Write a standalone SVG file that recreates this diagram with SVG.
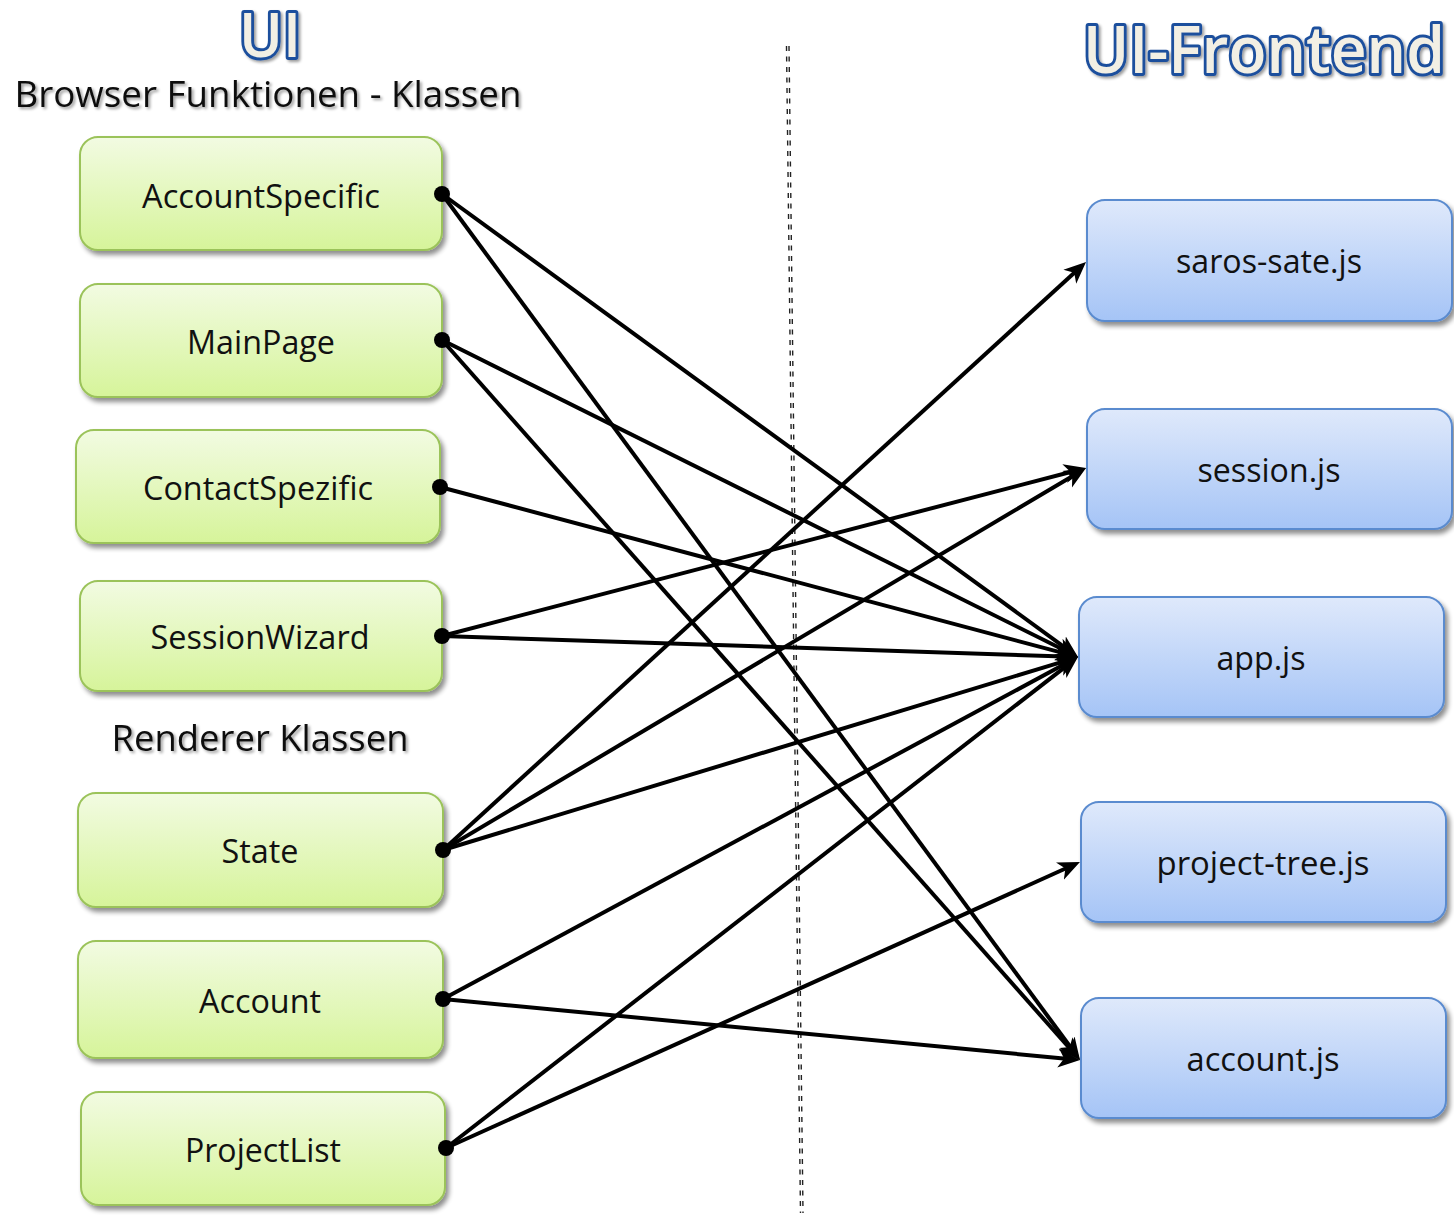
<svg xmlns="http://www.w3.org/2000/svg" width="1454" height="1215" viewBox="0 0 1454 1215">
  <defs>
    <linearGradient id="gGreen" x1="0" y1="0" x2="0" y2="1">
      <stop offset="0" stop-color="#f2fbe2"/>
      <stop offset="1" stop-color="#d6f49a"/>
    </linearGradient>
    <linearGradient id="gBlue" x1="0" y1="0" x2="0" y2="1">
      <stop offset="0" stop-color="#dfe9fb"/>
      <stop offset="1" stop-color="#a5c4f6"/>
    </linearGradient>
    <filter id="boxShadow" x="-10%" y="-10%" width="125%" height="130%">
      <feGaussianBlur in="SourceAlpha" stdDeviation="2.5"/>
      <feOffset dx="3" dy="4" result="o"/>
      <feComponentTransfer><feFuncA type="linear" slope="0.45"/></feComponentTransfer>
      <feMerge><feMergeNode/><feMergeNode in="SourceGraphic"/></feMerge>
    </filter>
    <filter id="textShadow" x="-5%" y="-20%" width="110%" height="150%">
      <feGaussianBlur in="SourceAlpha" stdDeviation="1.5"/>
      <feOffset dx="2" dy="2"/>
      <feComponentTransfer><feFuncA type="linear" slope="0.4"/></feComponentTransfer>
      <feMerge><feMergeNode/><feMergeNode in="SourceGraphic"/></feMerge>
    </filter>
    <marker id="arrow" markerUnits="userSpaceOnUse" markerWidth="26" markerHeight="22" viewBox="0 -11 26 22" refX="8" refY="0" orient="auto">
      <path d="M0,-9.5 L22,0 L0,9.5 L6,0 Z" fill="#000"/>
    </marker>
    <style>
      .green { fill: url(#gGreen); stroke: #9bc35a; stroke-width: 2; filter: url(#boxShadow); }
      .blue { fill: url(#gBlue); stroke: #5a8bcf; stroke-width: 2; filter: url(#boxShadow); }
      .lbl { font-family: "Open Sans", "Liberation Sans", sans-serif; font-size: 32px; fill: #111; text-anchor: middle; }
      .head { font-family: "Open Sans", "Liberation Sans", sans-serif; font-size: 36px; fill: #111; text-anchor: middle; filter: url(#textShadow); }
      .title { font-family: "Open Sans", "Liberation Sans", sans-serif; font-weight: 600; fill: #f2efe4; stroke: #1d4f9d; stroke-width: 6; paint-order: stroke; stroke-linejoin: round; text-anchor: middle; filter: url(#textShadow); }
      .edge { stroke: #000; stroke-width: 4; fill: none; marker-end: url(#arrow); }
      .dot { fill: #000; }
      .sep { stroke: #222; stroke-width: 1.4; stroke-dasharray: 5 5.5; }
    </style>
  </defs>

  <rect width="1454" height="1215" fill="#fff"/>

  <!-- headings -->
  <text class="title" x="270" y="57" font-size="62" textLength="62" lengthAdjust="spacingAndGlyphs">UI</text>
  <text class="title" x="1264" y="73" font-size="66" textLength="362" lengthAdjust="spacingAndGlyphs">UI-Frontend</text>
  <text class="head" x="268" y="107" textLength="507" lengthAdjust="spacingAndGlyphs">Browser Funktionen - Klassen</text>
  <text class="head" x="260" y="751" textLength="297" lengthAdjust="spacingAndGlyphs">Renderer Klassen</text>

  <!-- separator between the two layers -->
  <g id="separator">
    <line class="sep" x1="786.5" y1="46" x2="800.5" y2="1213"/>
    <line class="sep" x1="789" y1="46" x2="803" y2="1213"/>
  </g>

  <!-- browser function and renderer classes -->
  <g id="node-accountspecific">
    <rect class="green" x="80" y="137" width="362" height="113" rx="18"/>
    <text class="lbl" x="261" y="208" textLength="238" lengthAdjust="spacingAndGlyphs">AccountSpecific</text>
  </g>
  <g id="node-mainpage">
    <rect class="green" x="80" y="284" width="362" height="113" rx="18"/>
    <text class="lbl" x="261" y="354" textLength="148" lengthAdjust="spacingAndGlyphs">MainPage</text>
  </g>
  <g id="node-contactspezific">
    <rect class="green" x="76" y="430" width="364" height="113" rx="18"/>
    <text class="lbl" x="258" y="500" textLength="230" lengthAdjust="spacingAndGlyphs">ContactSpezific</text>
  </g>
  <g id="node-sessionwizard">
    <rect class="green" x="80" y="581" width="362" height="110" rx="18"/>
    <text class="lbl" x="260" y="649" textLength="219" lengthAdjust="spacingAndGlyphs">SessionWizard</text>
  </g>
  <g id="node-state">
    <rect class="green" x="78" y="793" width="365" height="114" rx="18"/>
    <text class="lbl" x="260" y="863" textLength="77" lengthAdjust="spacingAndGlyphs">State</text>
  </g>
  <g id="node-account">
    <rect class="green" x="78" y="941" width="365" height="117" rx="18"/>
    <text class="lbl" x="260" y="1013" textLength="122" lengthAdjust="spacingAndGlyphs">Account</text>
  </g>
  <g id="node-projectlist">
    <rect class="green" x="81" y="1092" width="364" height="113" rx="18"/>
    <text class="lbl" x="263" y="1162" textLength="156" lengthAdjust="spacingAndGlyphs">ProjectList</text>
  </g>

  <!-- frontend scripts -->
  <g id="node-saros-sate-js">
    <rect class="blue" x="1087" y="200" width="365" height="121" rx="18"/>
    <text class="lbl" x="1269" y="273" textLength="186" lengthAdjust="spacingAndGlyphs">saros-sate.js</text>
  </g>
  <g id="node-session-js">
    <rect class="blue" x="1087" y="409" width="365" height="120" rx="18"/>
    <text class="lbl" x="1269" y="482" textLength="143" lengthAdjust="spacingAndGlyphs">session.js</text>
  </g>
  <g id="node-app-js">
    <rect class="blue" x="1079" y="597" width="365" height="120" rx="18"/>
    <text class="lbl" x="1261" y="670" textLength="89" lengthAdjust="spacingAndGlyphs">app.js</text>
  </g>
  <g id="node-project-tree-js">
    <rect class="blue" x="1081" y="802" width="365" height="120" rx="18"/>
    <text class="lbl" x="1263" y="875" textLength="213" lengthAdjust="spacingAndGlyphs">project-tree.js</text>
  </g>
  <g id="node-account-js">
    <rect class="blue" x="1081" y="998" width="365" height="120" rx="18"/>
    <text class="lbl" x="1263" y="1071" textLength="153" lengthAdjust="spacingAndGlyphs">account.js</text>
  </g>

  <!-- dependencies: class -> script -->
  <g id="connectors">
    <line class="edge" x1="442" y1="194" x2="1066.7" y2="648.8"/>
    <line class="edge" x1="442" y1="194" x2="1071.7" y2="1048.7"/>
    <line class="edge" x1="442" y1="340" x2="1065.5" y2="650.8"/>
    <line class="edge" x1="442" y1="340" x2="1070.7" y2="1049.5"/>
    <line class="edge" x1="440" y1="487" x2="1064.5" y2="653.4"/>
    <line class="edge" x1="442" y1="636" x2="1072.5" y2="471.5"/>
    <line class="edge" x1="442" y1="636" x2="1064.0" y2="656.5"/>
    <line class="edge" x1="443" y1="850" x2="1075.7" y2="271.4"/>
    <line class="edge" x1="443" y1="850" x2="1074.0" y2="475.2"/>
    <line class="edge" x1="443" y1="850" x2="1064.6" y2="661.1"/>
    <line class="edge" x1="443" y1="999" x2="1065.7" y2="663.6"/>
    <line class="edge" x1="443" y1="999" x2="1066.1" y2="1058.7"/>
    <line class="edge" x1="446" y1="1148" x2="1066.9" y2="665.6"/>
    <line class="edge" x1="446" y1="1148" x2="1067.2" y2="867.8"/>
    <circle class="dot" cx="442" cy="194" r="8"/>
    <circle class="dot" cx="442" cy="340" r="8"/>
    <circle class="dot" cx="440" cy="487" r="8"/>
    <circle class="dot" cx="442" cy="636" r="8"/>
    <circle class="dot" cx="443" cy="850" r="8"/>
    <circle class="dot" cx="443" cy="999" r="8"/>
    <circle class="dot" cx="446" cy="1148" r="8"/>
  </g>
</svg>
